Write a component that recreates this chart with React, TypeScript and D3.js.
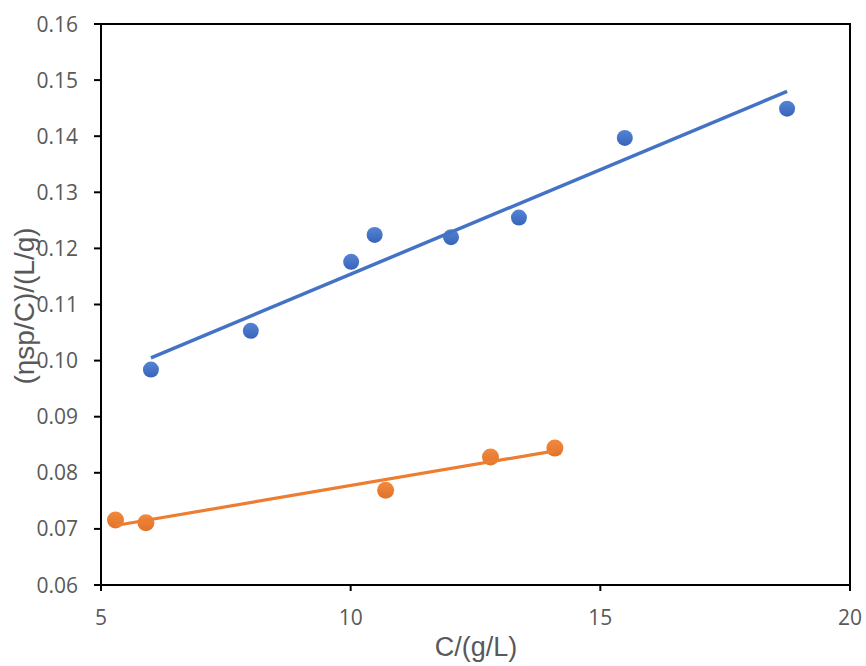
import React from "react";
import * as d3 from "d3";

const xTicks = [5, 10, 15, 20];
const yTicks = [0.06, 0.07, 0.08, 0.09, 0.1, 0.11, 0.12, 0.13, 0.14, 0.15, 0.16];

const blueX = [6.0, 8.0, 10.01, 10.48, 12.01, 13.37, 15.49, 18.74];
const blueY = [0.0984, 0.1053, 0.1176, 0.1224, 0.122, 0.1255, 0.1397, 0.1449];

const orangeX = [5.29, 5.9, 10.7, 12.8, 14.09];
const orangeY = [0.0716, 0.0711, 0.0769, 0.0828, 0.0844];

const W = 866;
const H = 666;
const L = 101;
const R = 850;
const T = 24;
const B = 585;

function fit(xs: number[], ys: number[]) {
  const mx = d3.mean(xs)!;
  const my = d3.mean(ys)!;
  let sxy = 0;
  let sxx = 0;
  xs.forEach((x, i) => {
    sxy += (x - mx) * (ys[i] - my);
    sxx += (x - mx) * (x - mx);
  });
  const m = sxy / sxx;
  const b = my - m * mx;
  const x0 = d3.min(xs)!;
  const x1 = d3.max(xs)!;
  return [
    [x0, m * x0 + b],
    [x1, m * x1 + b],
  ] as [number, number][];
}

export default function App() {
  const x = d3.scaleLinear().domain([5, 20]).range([L, R]);
  const y = d3.scaleLinear().domain([0.06, 0.16]).range([B, T]);
  const line = d3
    .line<[number, number]>()
    .x((d) => x(d[0]))
    .y((d) => y(d[1]));

  const series = [
    { xs: blueX, ys: blueY, color: "#4472C4", grad: "gb", r: 8, lw: 3.5 },
    { xs: orangeX, ys: orangeY, color: "#ED7D31", grad: "go", r: 8.5, lw: 3.2 },
  ];

  const tickFont = "'Open Sans', sans-serif";
  const titleFont = "'Liberation Sans', Arial, sans-serif";

  return (
    <svg
      width={W}
      height={H}
      style={{ position: "absolute", left: 0, top: 0, background: "#fff" }}
    >
      <defs>
        <linearGradient id="gb" x1="0" y1="0" x2="0" y2="1">
          <stop offset="0" stopColor="#5584D4" />
          <stop offset="1" stopColor="#3764BA" />
        </linearGradient>
        <linearGradient id="go" x1="0" y1="0" x2="0" y2="1">
          <stop offset="0" stopColor="#F28A40" />
          <stop offset="1" stopColor="#E0722A" />
        </linearGradient>
      </defs>

      {/* frame */}
      <rect x={L} y={T} width={R - L} height={B - T} fill="none" stroke="#000" strokeWidth={2} />

      {/* y ticks */}
      {yTicks.map((t) => (
        <g key={"y" + t}>
          <line x1={L - 7} x2={L} y1={y(t)} y2={y(t)} stroke="#000" strokeWidth={2} />
          <text
            x={78}
            y={y(t)}
            dy="0.36em"
            textAnchor="end"
            fontSize={21}
            fill="#595959"
            fontFamily={tickFont}
          >
            {t.toFixed(2)}
          </text>
        </g>
      ))}

      {/* x ticks */}
      {xTicks.map((t) => (
        <g key={"x" + t}>
          <line x1={x(t)} x2={x(t)} y1={B} y2={B + 6} stroke="#000" strokeWidth={2} />
          <text
            x={x(t)}
            y={B + 40}
            textAnchor="middle"
            fontSize={21}
            fill="#595959"
            fontFamily={tickFont}
          >
            {t}
          </text>
        </g>
      ))}

      {/* series */}
      {series.map((s, si) => (
        <g key={si}>
          {s.xs.map((xv, i) => (
            <circle key={i} cx={x(xv)} cy={y(s.ys[i])} r={s.r} fill={`url(#${s.grad})`} />
          ))}
          <path d={line(fit(s.xs, s.ys))!} stroke={s.color} strokeWidth={s.lw} fill="none" />
        </g>
      ))}

      {/* axis titles */}
      <text
        x={476}
        y={656}
        textAnchor="middle"
        fontSize={27}
        fill="#595959"
        fontFamily={titleFont}
      >
        C/(g/L)
      </text>
      <text
        transform={`translate(34, 306) rotate(-90)`}
        textAnchor="middle"
        fontSize={28}
        fill="#595959"
        fontFamily={titleFont}
      >
        (ηsp/C)/(L/g)
      </text>
    </svg>
  );
}
